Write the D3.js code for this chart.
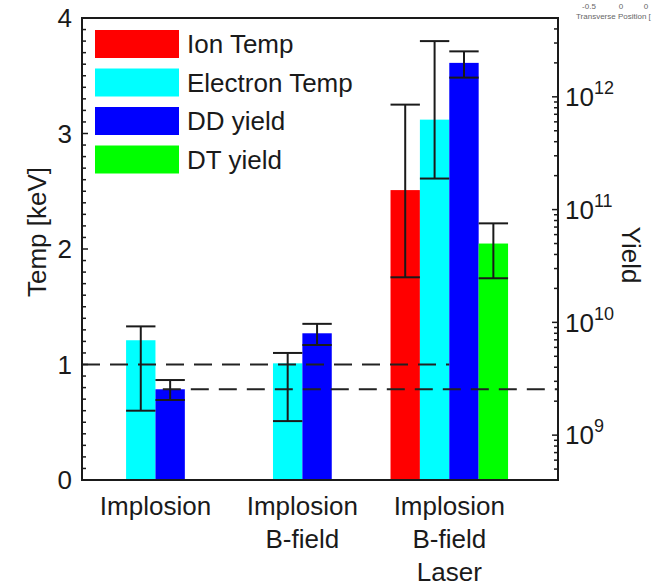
<!DOCTYPE html>
<html>
<head>
<meta charset="utf-8">
<script src="https://cdn.jsdelivr.net/npm/d3@7"></script>
<style>
  html, body { margin: 0; padding: 0; background: #fff; }
  svg { display: block; font-family: "Liberation Sans", Arial, sans-serif; }
</style>
</head>
<body>
<svg id="chart" width="652" height="587"></svg>
<script>
// ---------------- data ----------------
const categories = [["Implosion"], ["Implosion", "B-field"], ["Implosion", "B-field", "Laser"]];
const seriesNames = ["Ion Temp", "Electron Temp", "DD yield", "DT yield"];
const seriesColors = ["#ff0000", "#00ffff", "#0000ff", "#00ff00"];
const seriesAxis = ["temp", "temp", "yield", "yield"];

const ionTemp      = [null, null, 2.51];
const ionTempLo    = [null, null, 1.755];
const ionTempHi    = [null, null, 3.25];

const electronTemp   = [1.21, 1.01, 3.12];
const electronTempLo = [0.60, 0.51, 2.61];
const electronTempHi = [1.33, 1.10, 3.80];

const ddYield   = [2.55e9, 8.0e9, 2.0e12];
const ddYieldLo = [2.05e9, 6.3e9, 1.48e12];
const ddYieldHi = [3.08e9, 9.7e9, 2.53e12];

const dtYield   = [null, null, 5.0e10];
const dtYieldLo = [null, null, 2.46e10];
const dtYieldHi = [null, null, 7.55e10];

const tempTicks = [0, 1, 2, 3, 4];
const yieldTickExps = [9, 10, 11, 12];

// reference (dashed) lines: value, xStart, xEnd in data units
const tempRef = { value: 1, x0: 0.5, x1: 3.0 };
const yieldRef = { value: ddYield[0], x0: 1.05, x1: 3.74 };

// ---------------- layout ----------------
const svg = d3.select("#chart");
const ink = "#1a1a1a";
const pL = 82, pR = 558, pT = 18, pB = 480;

const x = d3.scaleLinear().domain([0.5, 3.74]).range([pL, pR]);
const yT = d3.scaleLinear().domain([0, 4]).range([pB, pT]);
const yY = d3.scaleLog().domain([4e8, 5e12]).range([pB, pT]);

const values = [ionTemp, electronTemp, ddYield, dtYield];
const lows = [ionTempLo, electronTempLo, ddYieldLo, dtYieldLo];
const highs = [ionTempHi, electronTempHi, ddYieldHi, dtYieldHi];
const offsets = [-0.3, -0.1, 0.1, 0.3];
const barW = 0.2;

const bars = [];
values.forEach((arr, s) => {
  arr.forEach((v, c) => {
    if (v == null) return;
    bars.push({ s, c, v, lo: lows[s][c], hi: highs[s][c] });
  });
});
const yFor = d => seriesAxis[d.s] === "temp" ? yT : yY;
function c1(d) { return d.c + 1 + offsets[d.s]; }

// bars
svg.append("g").selectAll("rect").data(bars).join("rect")
  .attr("x", d => x(c1(d) - barW / 2))
  .attr("width", d => x(c1(d) + barW / 2) - x(c1(d) - barW / 2))
  .attr("y", d => yFor(d)(d.v))
  .attr("height", d => pB - yFor(d)(d.v))
  .attr("fill", d => seriesColors[d.s]);

// dashed reference lines
svg.append("line")
  .attr("x1", x(tempRef.x0)).attr("x2", x(tempRef.x1))
  .attr("y1", yT(tempRef.value)).attr("y2", yT(tempRef.value))
  .attr("stroke", "#222").attr("stroke-width", 2).attr("stroke-dasharray", "18,10");
svg.append("line")
  .attr("x1", x(yieldRef.x0)).attr("x2", x(yieldRef.x1))
  .attr("y1", yY(yieldRef.value)).attr("y2", yY(yieldRef.value))
  .attr("stroke", "#222").attr("stroke-width", 2).attr("stroke-dasharray", "18,10");

// error bars
const eg = svg.append("g").attr("stroke", "#1a1a1a").attr("stroke-width", 2);
bars.forEach(d => {
  const sc = yFor(d);
  const cx = x(c1(d));
  const hw = (x(c1(d) + barW / 2) - x(c1(d) - barW / 2)) / 2;
  eg.append("line").attr("x1", cx).attr("x2", cx).attr("y1", sc(d.lo)).attr("y2", sc(d.hi));
  eg.append("line").attr("x1", cx - hw).attr("x2", cx + hw).attr("y1", sc(d.lo)).attr("y2", sc(d.lo));
  eg.append("line").attr("x1", cx - hw).attr("x2", cx + hw).attr("y1", sc(d.hi)).attr("y2", sc(d.hi));
});

// axes box
const ax = svg.append("g").attr("stroke", ink).attr("stroke-width", 2).attr("fill", "none");
ax.append("path").attr("d", `M${pL},${pT}H${pR}V${pB}H${pL}Z`);

// left axis ticks (inward)
const leftMinor = d3.range(0, 40).map(i => i / 10);
ax.selectAll(".lt").data(leftMinor).join("line")
  .attr("x1", pL).attr("x2", (d, i) => pL + (i % 10 === 0 ? 6 : 4))
  .attr("y1", d => yT(d)).attr("y2", d => yT(d)).attr("stroke-width", 1.5);

// right axis ticks (inward, log)
const rightTicks = [];
for (let e = 8; e <= 12; e++) for (let m = 1; m <= 9; m++) {
  const v = m * Math.pow(10, e);
  if (v >= 4e8 && v <= 5e12) rightTicks.push({ v, major: m === 1 });
}
ax.selectAll(".rt").data(rightTicks).join("line")
  .attr("x1", pR).attr("x2", d => pR - (d.major ? 6 : 4))
  .attr("y1", d => yY(d.v)).attr("y2", d => yY(d.v)).attr("stroke-width", 1.5);

// left tick labels
svg.append("g").selectAll("text").data(tempTicks).join("text")
  .attr("x", 72).attr("y", d => yT(d)).attr("dy", "0.36em")
  .attr("text-anchor", "end").attr("font-size", 26).attr("fill", ink)
  .text(d => d);

// right tick labels
const rl = svg.append("g").selectAll("text").data(yieldTickExps).join("text")
  .attr("x", 565).attr("y", d => yY(Math.pow(10, d))).attr("dy", "0.36em")
  .attr("font-size", 26).attr("fill", ink);
rl.append("tspan").text("10");
rl.append("tspan").attr("dy", "-12").attr("font-size", 18).text(d => d);

// axis titles
svg.append("text").attr("transform", `translate(46,232) rotate(-90)`)
  .attr("text-anchor", "middle").attr("font-size", 26).attr("fill", ink).text("Temp [keV]");
svg.append("text").attr("transform", `translate(622,255) rotate(90)`)
  .attr("text-anchor", "middle").attr("font-size", 26).attr("fill", ink).text("Yield");

// category labels
const cl = svg.append("g").selectAll("text").data(categories).join("text")
  .attr("text-anchor", "middle").attr("font-size", 26).attr("fill", ink)
  .attr("transform", (d, i) => `translate(${x(i + 1)},515)`);
cl.selectAll("tspan").data(d => d).join("tspan")
  .attr("x", 0).attr("y", (d, i) => i * 33).text(d => d);

// legend
const lg = svg.append("g").selectAll("g").data(seriesNames).join("g")
  .attr("transform", (d, i) => `translate(95,${30 + i * 38.5})`);
lg.append("rect").attr("width", 84).attr("height", 28).attr("fill", (d, i) => seriesColors[i]);
lg.append("text").attr("x", 92).attr("y", 14).attr("dy", "0.36em")
  .attr("font-size", 26).attr("fill", ink).text(d => d);

// clipped fragment of a neighbouring figure (top right)
const frag = svg.append("g").attr("font-size", 8).attr("fill", "#666");
frag.append("text").attr("x", 589).attr("y", 9).attr("text-anchor", "middle").text("-0.5");
frag.append("text").attr("x", 621).attr("y", 9).attr("text-anchor", "middle").text("0");
frag.append("text").attr("x", 646).attr("y", 9).attr("text-anchor", "middle").text("0");
frag.append("text").attr("x", 576).attr("y", 19).text("Transverse Position [");
</script>
</body>
</html>
